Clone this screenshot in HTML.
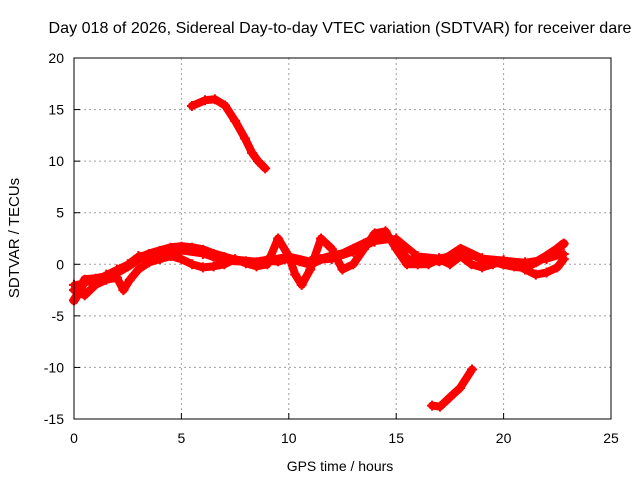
<!DOCTYPE html>
<html><head><meta charset="utf-8"><style>
body{margin:0;background:#fff}
svg text{font-family:"Liberation Sans",sans-serif;font-size:14px;fill:#000}
</style></head><body>
<svg id="chart" width="640" height="480" xmlns="http://www.w3.org/2000/svg">
<text x="340" y="33" text-anchor="middle" style="font-size:16px" textLength="583" lengthAdjust="spacingAndGlyphs">Day 018 of 2026, Sidereal Day-to-day VTEC variation (SDTVAR) for receiver dare</text>
<text x="340" y="471" text-anchor="middle">GPS time / hours</text>
<text x="19" y="238" text-anchor="middle" transform="rotate(-90 19 238)" style="font-size:15px">SDTVAR / TECUs</text>
<g id="grid"></g><g id="marks"></g>
<rect x="74" y="58" width="537" height="361" fill="none" stroke="#000" stroke-width="1"/>
</svg>
<script>
const xTicks=[0,5,10,15,20,25];
const yTicks=[-15,-10,-5,0,5,10,15,20];
const arcX=[5.49,6.1,6.56,7.03,7.5,7.96,8.29,8.57,8.9];
const arcY=[15.35,15.9,16.0,15.4,13.9,12.2,10.8,10.0,9.3];
const lowX=[16.67,17.04,17.5,17.97,18.53];
const lowY=[-13.7,-13.8,-12.9,-12.0,-10.2];
const aX=[0,0.3,0.5,1,1.5,2,2.5,3,3.5,4,4.5,5,5.5,6,6.5,7,7.5,8,8.5,9,9.5,10,10.5,11,11.5,12,12.5,13,13.5,14,14.5,15,15.5,16,16.5,17,17.5,18,18.5,19,19.5,20,20.5,21,21.5,22,22.5,22.8];
const aY=[-3.5,-2.5,-1.5,-1.4,-1.2,-0.8,-0.2,0.5,1.0,1.3,1.6,1.7,1.6,1.4,1.0,0.7,0.4,0.3,0.2,0.4,0.3,0.6,0.3,0.0,0.5,0.8,1.0,1.5,2.0,2.5,2.8,2.0,0.5,0.3,0.5,0.3,0.8,1.5,1.0,0.5,0.3,0.0,-0.2,-0.3,0.2,0.8,1.5,2.0];
const bX=[0,0.5,1,1.5,2,2.3,2.6,3,3.5,4,4.5,5,5.5,6,6.5,7,7.5,8,8.5,9,9.5,10,10.3,10.6,11,11.5,12,12.5,13,13.5,14,14.5,15,15.5,16,16.5,17,17.5,18,18.5,19,19.5,20,20.5,21,21.5,22,22.5,22.8];
const bY=[-2.5,-3.0,-2.0,-1.5,-1.3,-2.5,-1.5,-0.5,0.2,0.5,0.8,0.5,0.0,-0.3,-0.2,0.0,0.5,0.1,-0.2,0.0,2.5,0.8,-1.0,-2.0,-0.5,2.5,1.5,-0.5,0.0,1.5,3.0,3.2,1.5,0.0,0.0,0.0,0.5,0.0,0.8,0.0,-0.3,0.0,0.3,0.0,-0.5,-1.0,-0.8,-0.3,0.5];
const cX=[0,0.5,1,1.5,2,2.5,3,4,5,6,7,8,9,10,11,12,13,14,15,16,17,18,19,20,21,22,22.8];
const cY=[-2.0,-1.8,-1.6,-1.0,-0.5,0.0,0.8,1.2,1.3,1.0,0.3,0.2,0.4,0.8,0.3,0.5,1.2,2.2,2.5,0.8,0.6,1.0,0.6,0.4,0.2,0.5,1.0];
const X=v=>74+v*537/25, Y=v=>58+(20-v)*361/35;
const NS="http://www.w3.org/2000/svg";
const grid=document.getElementById('grid'), marks=document.getElementById('marks');
function mk(t,a,p){const e=document.createElementNS(NS,t);for(const k in a)e.setAttribute(k,a[k]);p.appendChild(e);return e;}
xTicks.forEach(t=>{
 if(t>0&&t<25){const l=mk('line',{x1:X(t),x2:X(t),y1:58,y2:419,stroke:'#a0a0a0','stroke-dasharray':'2,3'},grid);
 
 }
 const tk=mk('line',{x1:X(t),x2:X(t),y1:419,y2:413,stroke:'#000'},grid);
 
 
 const s=mk('text',{x:X(t),y:443,'text-anchor':'middle'},grid);s.textContent=t;
 
 
});
yTicks.forEach(t=>{
 if(t>-15&&t<20){const l=mk('line',{x1:74,x2:611,y1:Y(t),y2:Y(t),stroke:'#a0a0a0','stroke-dasharray':'2,3'},grid);
 
 }
 const tk=mk('line',{x1:74,x2:80,y1:Y(t),y2:Y(t),stroke:'#000'},grid);
 
 
 const s=mk('text',{x:64,y:Y(t)+5,'text-anchor':'end'},grid);s.textContent=t;
 
 
});
function series(xs,ys,name,w){
 const g=mk('g',{},marks);
 
 
 mk('polyline',{points:xs.map((x,i)=>X(x)+','+Y(ys[i])).join(' '),fill:'none',stroke:'#f00','stroke-width':w,'stroke-linejoin':'round','stroke-linecap':'round'},g);
 xs.forEach((x,i)=>{const cx=X(x),cy=Y(ys[i]);
  mk('path',{d:`M${cx-5},${cy}h10M${cx},${cy-5}v10`,stroke:'#f00','stroke-width':2},g);});
}
series(aX,aY,'series-band-a',9);
series(bX,bY,'series-band-b',8);
series(cX,cY,'series-band-c',7);
series(arcX,arcY,'series-upper-arc',8);
series(lowX,lowY,'series-lower-arc',8);
</script>
</body></html>
